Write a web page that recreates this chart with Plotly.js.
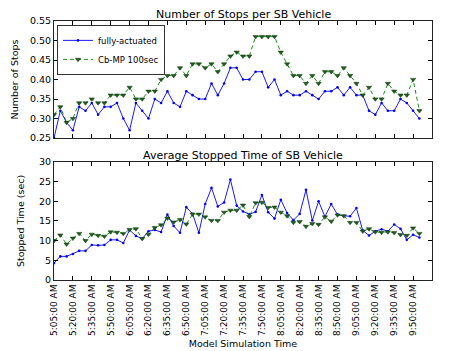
<!DOCTYPE html>
<html><head><meta charset="utf-8">
<script src="https://cdn.plot.ly/plotly-3.0.1.min.js"></script>
<style>html,body{margin:0;padding:0;background:#fff}#c{width:463px;height:351px}</style>
</head><body><div id="c"></div>
<script>
// 5-minute intervals from 5:05 AM to 9:55 AM
const times = [];
for (let m = 5*60+5; m <= 9*60+55; m += 5) {
  const h = Math.floor(m/60), mm = m%60;
  times.push(h + ':' + String(mm).padStart(2,'0') + ':00 AM');
}
const stopsActuated = [0.25,0.32,0.29,0.27,0.33,0.32,0.34,0.31,0.33,0.33,0.34,0.30,0.27,0.34,0.32,0.30,0.35,0.34,0.37,0.34,0.33,0.37,0.36,0.35,0.35,0.39,0.36,0.39,0.43,0.43,0.40,0.40,0.42,0.42,0.38,0.40,0.36,0.37,0.36,0.36,0.37,0.36,0.35,0.37,0.37,0.38,0.36,0.38,0.36,0.36,0.32,0.31,0.34,0.32,0.32,0.35,0.34,0.32,0.30,0.31];
const stopsCbMP = [0.31,0.33,0.29,0.30,0.34,0.34,0.35,0.34,0.34,0.36,0.36,0.36,0.38,0.35,0.35,0.37,0.37,0.40,0.41,0.41,0.43,0.41,0.44,0.44,0.43,0.44,0.42,0.44,0.46,0.47,0.46,0.46,0.51,0.51,0.51,0.51,0.47,0.44,0.41,0.41,0.39,0.41,0.39,0.42,0.42,0.41,0.43,0.41,0.39,0.36,0.38,0.35,0.35,0.39,0.37,0.36,0.36,0.40,0.32,0.37];
const timeActuated = [4.3,6.0,6.0,6.6,7.4,7.4,8.9,8.8,8.9,10.2,10.2,9.4,12.7,11.2,10.5,12.4,12.7,12.2,16.6,13.7,12.0,18.5,16.8,12.0,19.3,23.4,18.7,19.7,25.5,18.9,17.4,16.7,17.3,21.6,17.2,15.6,20.4,17.0,15.2,16.8,22.9,15.1,20.0,16.1,19.3,16.6,16.3,16.2,18.3,12.6,11.3,12.4,12.9,12.4,14.1,13.0,10.2,11.5,10.8,9.5];
const timeCbMP = [10.0,11.4,9.1,10.6,11.8,10.0,11.6,11.3,11.1,12.2,12.1,11.8,12.8,13.0,10.5,11.6,13.3,14.0,15.7,14.7,15.3,14.2,16.7,16.7,16.0,15.1,15.1,17.2,17.7,17.7,19.0,16.1,19.6,19.7,18.4,18.5,17.2,16.3,14.6,14.8,13.6,14.3,14.1,16.0,14.9,16.5,16.3,14.6,14.6,12.4,13.0,12.2,12.1,12.2,12.0,11.5,11.3,13.2,11.8,11.4];
const seriesNames = ['fully-actuated','Cb-MP 100sec'];
const tickTimes = times.filter((t,i)=> i%3===0);

const blueLine = {color:'#0000ff', width:0.9};
const blueMarker = {symbol:'circle', size:2.6, color:'#0000ff', line:{width:0}};
const greenLine = {color:'#008000', width:0.9, dash:'4px,3px'};
const greenMarker = {symbol:'triangle-down', size:4.6, color:'#1f5f1f', line:{color:'#0a300a', width:0.5}};

const traces = [
  {x:times, y:stopsActuated, name:seriesNames[0], mode:'lines+markers', line:blueLine, marker:blueMarker, xaxis:'x', yaxis:'y'},
  {x:times, y:stopsCbMP, name:seriesNames[1], mode:'lines+markers', line:greenLine, marker:greenMarker, xaxis:'x', yaxis:'y'},
  {x:times, y:timeActuated, name:seriesNames[0], mode:'lines+markers', line:blueLine, marker:blueMarker, xaxis:'x2', yaxis:'y2', showlegend:false},
  {x:times, y:timeCbMP, name:seriesNames[1], mode:'lines+markers', line:greenLine, marker:greenMarker, xaxis:'x2', yaxis:'y2', showlegend:false}
];

const fontFam = 'DejaVu Sans, sans-serif';
const xcommon = {type:'category', categoryorder:'array', categoryarray:times, range:[0,60],
  tickmode:'array', tickvals:tickTimes, ticks:'inside', ticklen:4, tickcolor:'#000',
  showline:true, linecolor:'#222', linewidth:1, mirror:'ticks', showgrid:false, zeroline:false,
  tickfont:{size:9, family:fontFam, color:'#000'}};
const ycommon = {ticks:'inside', ticklen:4, tickcolor:'#000', showline:true, linecolor:'#222', linewidth:1,
  mirror:'ticks', showgrid:false, zeroline:false, tickfont:{size:9.5, family:fontFam, color:'#000'}};

const layout = {
  width:463, height:351,
  margin:{l:54, r:31, t:21, b:71},
  paper_bgcolor:'#fff', plot_bgcolor:'#fff',
  font:{family:fontFam, color:'#000'},
  showlegend:true,
  legend:{x:0.008, y:0.985, xanchor:'left', yanchor:'top', bgcolor:'#fff', bordercolor:'#333', borderwidth:1,
    font:{size:8.5, family:fontFam}, tracegroupgap:0, itemwidth:30},
  xaxis:Object.assign({}, xcommon, {domain:[0,1], anchor:'y', showticklabels:false}),
  yaxis:Object.assign({}, ycommon, {domain:[0.548,1], anchor:'x', range:[0.25,0.55], dtick:0.05, tickformat:'.2f',
    title:{text:'Number of Stops', font:{size:9.5, family:fontFam}, standoff:9}}),
  xaxis2:Object.assign({}, xcommon, {domain:[0,1], anchor:'y2', tickangle:-90,
    title:{text:'Model Simulation Time', font:{size:9.5, family:fontFam}, standoff:5}}),
  yaxis2:Object.assign({}, ycommon, {domain:[0,0.456], anchor:'x2', range:[0,30], dtick:5,
    title:{text:'Stopped Time (sec)', font:{size:9.5, family:fontFam}, standoff:12}}),
  annotations:[
    {text:'Number of Stops per SB Vehicle', xref:'paper', yref:'paper', x:0.5, y:1, yanchor:'bottom', xanchor:'center', showarrow:false, font:{size:11, family:fontFam}, yshift:-2},
    {text:'Average Stopped Time of SB Vehicle', xref:'paper', yref:'paper', x:0.5, y:0.456, yanchor:'bottom', xanchor:'center', showarrow:false, font:{size:11, family:fontFam}, yshift:-2}
  ]
};
Plotly.newPlot('c', traces, layout, {displayModeBar:false, staticPlot:true});
</script></body></html>
